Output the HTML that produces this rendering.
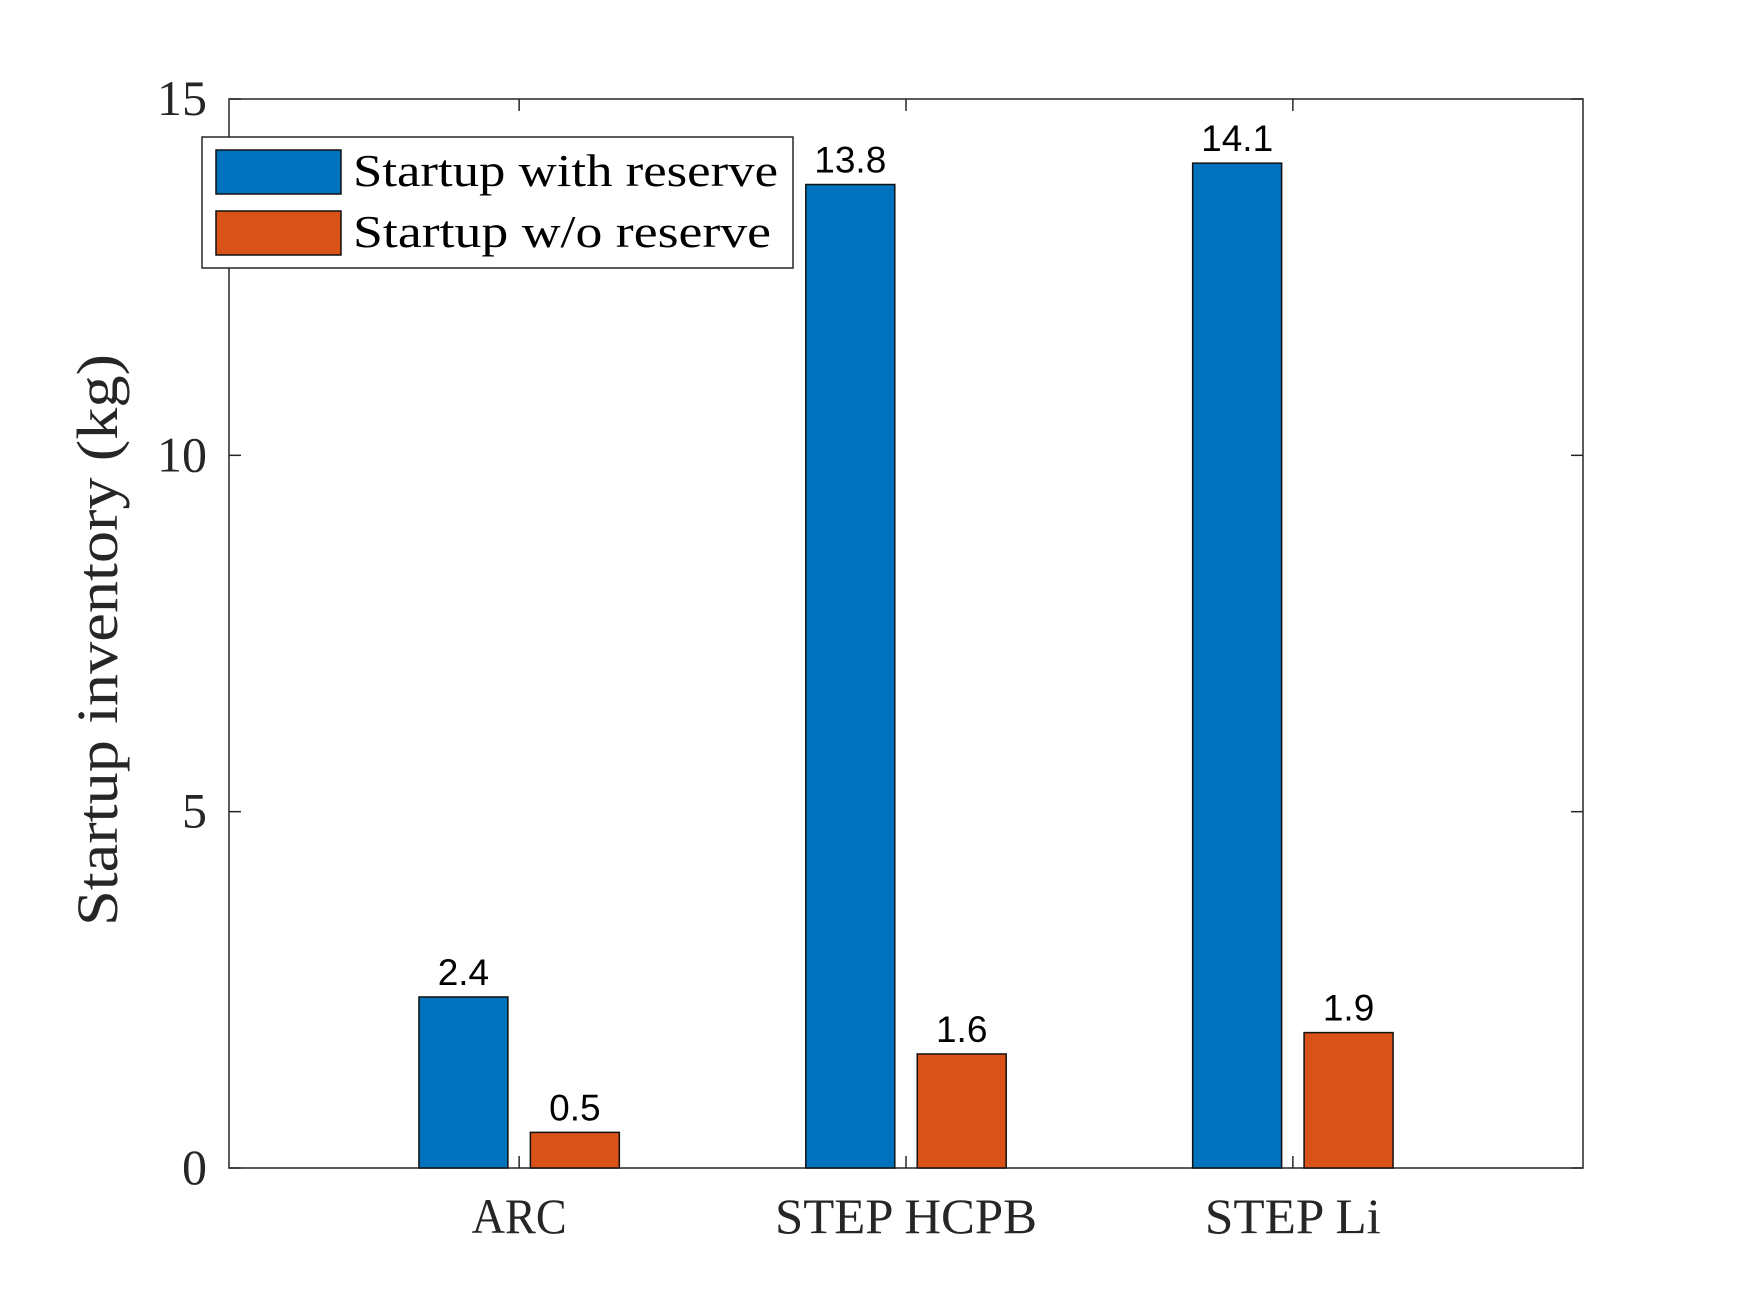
<!DOCTYPE html>
<html><head><meta charset="utf-8"><style>
html,body{margin:0;padding:0;background:#fff;}
svg{display:block;}
</style></head><body>
<svg id="chart" width="1750" height="1313" viewBox="0 0 1750 1313" xmlns="http://www.w3.org/2000/svg">
<rect width="1750" height="1313" fill="#fff"/>
<g id="plot"></g>
</svg>
<script>
const categories = ["ARC", "STEP HCPB", "STEP Li"];
const withReserve = [2.4, 13.8, 14.1];
const withoutReserve = [0.5, 1.6, 1.9];
const yTicks = [0, 5, 10, 15];
const seriesNames = ["Startup with reserve", "Startup w/o reserve"];

const NS = "http://www.w3.org/2000/svg";
const L = 229, R = 1592, T = 99, B = 1175;
const xMin = 0.25, xMax = 3.75, yMin = 0, yMax = 15;
function xs(v){ return L + (v - xMin) / (xMax - xMin) * (R - L); }
function ys(v){ return B - (v - yMin) / (yMax - yMin) * (B - T); }
const g = document.getElementById('plot');
function mk(tag, attrs, parent){
  const e = document.createElementNS(NS, tag);
  for (const k in attrs) e.setAttribute(k, attrs[k]);
  (parent || g).appendChild(e);
  return e;
}
const colors = ["#0072BD", "#D95319"];
const unit = (1583 - 229) / 3.5;
const barW = 0.23 * unit;
const offs = [-0.144 * unit, 0.144 * unit];
const serif = '"Liberation Serif", serif';
const sans = '"Liberation Sans", Arial, sans-serif';
const xLabelLen = [95, 262, 176];
function xc(v){ return 229 + (v - xMin) * unit; }

let box = mk('rect', {x: L, y: T, width: 1583 - L, height: 1168 - T, fill: 'none', stroke: '#262626', 'stroke-width': 1.5});


const B2 = 1168;
function yv(v){ return B2 - (v - yMin) / (yMax - yMin) * (B2 - T); }

yTicks.forEach(v => {
  const y = yv(v);
  let t1 = mk('line', {x1: L, x2: L + 12, y1: y, y2: y, stroke: '#262626', 'stroke-width': 1.5});
  
  
  let t2 = mk('line', {x1: 1583, x2: 1583 - 12, y1: y, y2: y, stroke: '#262626', 'stroke-width': 1.5});
  
  
  let lb = mk('text', {x: 207, y: y + 16, 'text-anchor': 'end', 'font-family': serif, 'font-size': 50, fill: '#262626'});
  lb.textContent = v;
  
  
});

categories.forEach((c, i) => {
  const cx = xc(i + 1);
  let tb = mk('line', {x1: cx, x2: cx, y1: B2, y2: B2 - 12, stroke: '#262626', 'stroke-width': 1.5});
  
  
  let tt = mk('line', {x1: cx, x2: cx, y1: T, y2: T + 12, stroke: '#262626', 'stroke-width': 1.5});
  
  
  [withReserve, withoutReserve].forEach((arr, s) => {
    const v = arr[i];
    const x = cx + offs[s] - barW / 2;
    let r = mk('rect', {x: x, y: yv(v), width: barW, height: yv(0) - yv(v), fill: colors[s], stroke: '#111', 'stroke-width': 1.5});
    
    
    let vl = mk('text', {x: cx + offs[s], y: yv(v) - 12, 'text-anchor': 'middle', 'font-family': sans, 'font-size': 37, fill: '#000'});
    vl.textContent = v.toFixed(1);
    
    
  });
  let xl = mk('text', {x: cx, y: 1233, 'text-anchor': 'middle', 'font-family': serif, 'font-size': 50, fill: '#262626', textLength: xLabelLen[i], lengthAdjust: 'spacingAndGlyphs'});
  xl.textContent = c;
  
  
});

let yt = mk('text', {x: 0, y: 0, transform: 'translate(117,640) rotate(-90)', 'text-anchor': 'middle', 'font-family': serif, 'font-size': 58, fill: '#262626', textLength: 572, lengthAdjust: 'spacingAndGlyphs'});
yt.textContent = 'Startup inventory (kg)';



const lg = mk('g', {});


let lbx = mk('rect', {x: 202, y: 137, width: 591, height: 131, fill: '#fff', stroke: '#262626', 'stroke-width': 1.5}, lg);


seriesNames.forEach((n, s) => {
  const y0 = 150 + s * 61;
  let sw = mk('rect', {x: 216, y: y0, width: 125, height: 44, fill: colors[s], stroke: '#111', 'stroke-width': 1.5}, lg);
  
  
  let tx = mk('text', {x: 353, y: y0 + 36, 'font-family': serif, 'font-size': 46, fill: '#000', textLength: s === 0 ? 425 : 418, lengthAdjust: 'spacingAndGlyphs'}, lg);
  tx.textContent = n;
  
  
});
</script>
</body></html>
